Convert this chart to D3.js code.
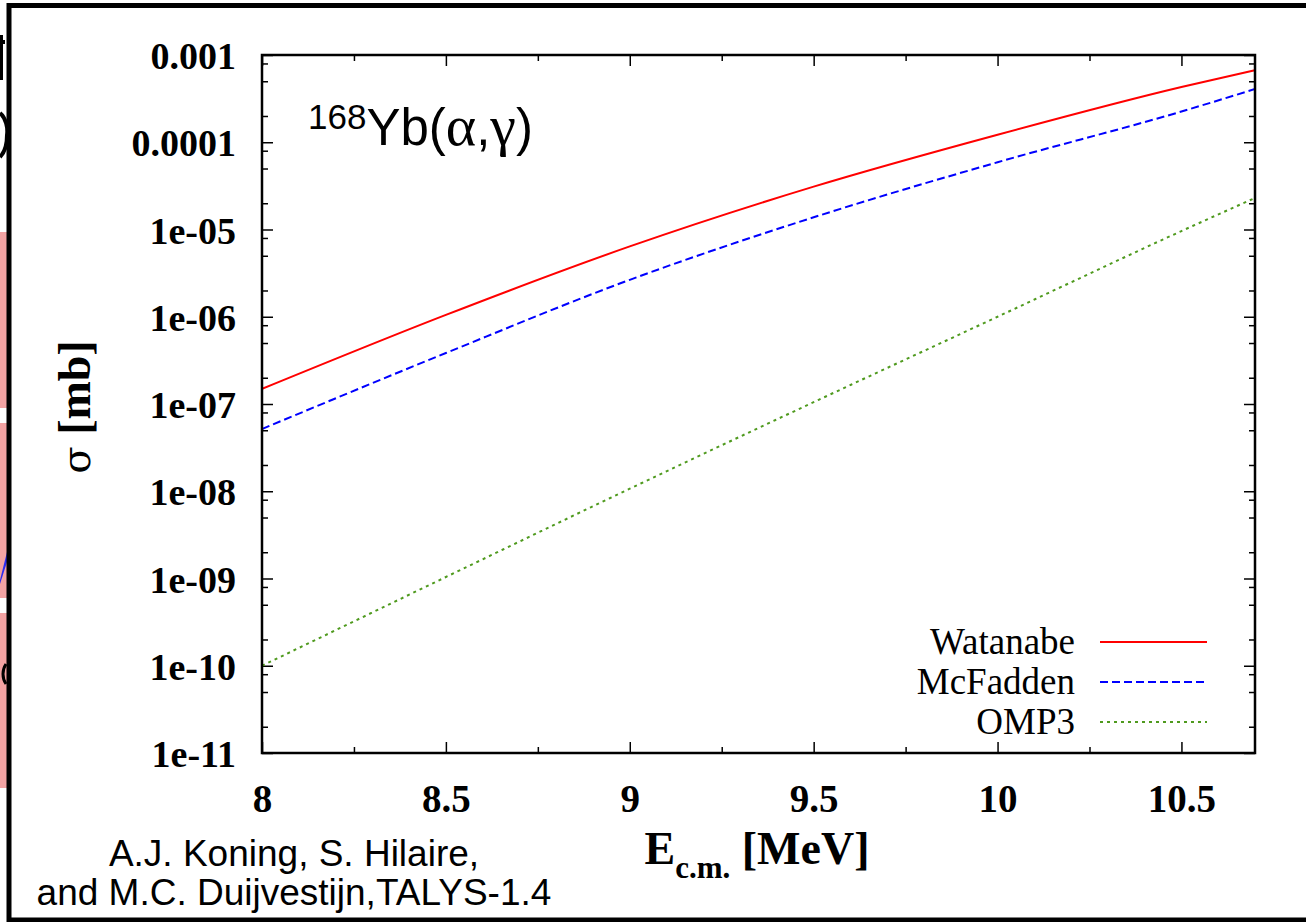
<!DOCTYPE html>
<html>
<head>
<meta charset="utf-8">
<script src="https://cdn.jsdelivr.net/npm/d3@7"></script>
<style>
  body { margin: 0; background: #fff; }
  svg { display: block; }
</style>
</head>
<body>
<script>
// energies (MeV) where curves were read
var energies = [8, 8.5, 9, 9.5, 10, 10.5, 10.7];

// cross sections in mb
var watanabe = [1.49e-7, 1.05e-6, 6.4e-6, 3.1e-5, 1.22e-4, 4.3e-4, 6.7e-4];
var mcfadden = [5.17e-8, 3.84e-7, 2.65e-6, 1.38e-5, 5.9e-5, 2.25e-4, 4.07e-4];
var omp3 = [1.0e-10, 1.04e-9, 1.07e-8, 1.05e-7, 1.0e-6, 9.6e-6, 2.3e-5];

var seriesNames = ["Watanabe", "McFadden", "OMP3"];

var xTicks = [8, 8.5, 9, 9.5, 10, 10.5];
var xTickLabels = ["8", "8.5", "9", "9.5", "10", "10.5"];
var xMinorTicks = [8.25, 8.75, 9.25, 9.75, 10.25];

var yTicks = [1e-3, 1e-4, 1e-5, 1e-6, 1e-7, 1e-8, 1e-9, 1e-10, 1e-11];
var yTickLabels = ["0.001", "0.0001", "1e-05", "1e-06", "1e-07", "1e-08", "1e-09", "1e-10", "1e-11"];
var yMinorMult = [2, 5, 8];

var width = 1306, height = 922;
var plotL = 262, plotR = 1255, plotT = 55, plotB = 753;
var serif = "'Liberation Serif', 'Times New Roman', serif";
var sans = "'Liberation Sans', Arial, sans-serif";

var svg = d3.select("body").append("svg")
  .attr("width", width)
  .attr("height", height);

// bits of the slide behind the figure (left strip)
var strip = svg.append("g");
[[232, 408], [423, 598], [613, 788]].forEach(function (r) {
  strip.append("rect")
    .attr("x", 0).attr("y", r[0])
    .attr("width", 7).attr("height", r[1] - r[0])
    .attr("fill", "#f3a3a3");
});
strip.append("path")
  .attr("d", "M0,580 L7,552 L7,562 L0,584 Z")
  .attr("fill", "#2b2bf0");
strip.append("path")
  .attr("d", "M0,35 L3,35 L3,80 L0,80 Z M0,40 L5,40 L5,44 L0,44 Z")
  .attr("fill", "#000");
strip.append("path")
  .attr("d", "M0,113 C6,118 8,128 7,135 C7,144 5,152 0,157")
  .attr("fill", "none").attr("stroke", "#000").attr("stroke-width", 4);
strip.append("path")
  .attr("d", "M6,664 C2,670 2,678 6,684")
  .attr("fill", "none").attr("stroke", "#000").attr("stroke-width", 3);

// outer slide frame
svg.append("path")
  .attr("d", "M1306,5.5 L9,5.5 L9,920 L1306,920")
  .attr("fill", "none")
  .attr("stroke", "#000")
  .attr("stroke-width", 5);

var x = d3.scaleLinear().domain([8, 10.7]).range([plotL, plotR]);
var y = d3.scaleLog().domain([1e-11, 1e-3]).range([plotB, plotT]);

var yMinor = [];
yTicks.forEach(function (t) {
  yMinorMult.forEach(function (m) {
    var v = t * m;
    if (v < 1e-3 && v > 1e-11) yMinor.push(v);
  });
});

var majorLen = 11, minorLen = 6;

function drawAxis(axis, transform) {
  var g = svg.append("g").attr("transform", transform).call(axis);
  g.select(".domain").remove();
  g.selectAll("line").attr("stroke-width", 1.5);
  return g;
}

// bottom & top, major and minor
var xb = drawAxis(d3.axisBottom(x).tickValues(xTicks).tickSize(-majorLen)
  .tickPadding(majorLen + 20)
  .tickFormat(function (d, i) { return xTickLabels[i]; }), "translate(0," + plotB + ")");
xb.selectAll("text")
  .attr("font-family", serif)
  .attr("font-weight", "bold")
  .attr("font-size", 39)
  .attr("fill", "#000");
drawAxis(d3.axisBottom(x).tickValues(xMinorTicks).tickSize(-minorLen).tickFormat(""), "translate(0," + plotB + ")");
drawAxis(d3.axisTop(x).tickValues(xTicks).tickSize(-majorLen).tickFormat(""), "translate(0," + plotT + ")");
drawAxis(d3.axisTop(x).tickValues(xMinorTicks).tickSize(-minorLen).tickFormat(""), "translate(0," + plotT + ")");

// left & right
var yl = drawAxis(d3.axisLeft(y).tickValues(yTicks).tickSize(-majorLen)
  .tickPadding(majorLen + 15)
  .tickFormat(function (d, i) { return yTickLabels[i]; }), "translate(" + plotL + ",0)");
yl.selectAll("text")
  .attr("font-family", serif)
  .attr("font-weight", "bold")
  .attr("font-size", 38)
  .attr("dy", "0.36em")
  .attr("fill", "#000");
drawAxis(d3.axisLeft(y).tickValues(yMinor).tickSize(-minorLen).tickFormat(""), "translate(" + plotL + ",0)");
drawAxis(d3.axisRight(y).tickValues(yTicks).tickSize(-majorLen).tickFormat(""), "translate(" + plotR + ",0)");
drawAxis(d3.axisRight(y).tickValues(yMinor).tickSize(-minorLen).tickFormat(""), "translate(" + plotR + ",0)");

// curves
var series = [
  { name: seriesNames[0], values: watanabe, color: "#ff0000", dash: null },
  { name: seriesNames[1], values: mcfadden, color: "#0000ff", dash: "8,4" },
  { name: seriesNames[2], values: omp3, color: "#4f9a1e", dash: "3,4" }
];

var line = d3.line()
  .x(function (d) { return x(d[0]); })
  .y(function (d) { return y(d[1]); })
  .curve(d3.curveMonotoneX);

svg.append("clipPath").attr("id", "plotclip")
  .append("rect").attr("x", plotL).attr("y", plotT)
  .attr("width", plotR - plotL).attr("height", plotB - plotT);

svg.append("g").attr("clip-path", "url(#plotclip)")
  .selectAll("path")
  .data(series)
  .enter()
  .append("path")
  .attr("d", function (s) { return line(energies.map(function (e, i) { return [e, s.values[i]]; })); })
  .attr("fill", "none")
  .attr("stroke", function (s) { return s.color; })
  .attr("stroke-width", 2)
  .attr("stroke-dasharray", function (s) { return s.dash; });

// plot frame
svg.append("rect")
  .attr("x", plotL).attr("y", plotT)
  .attr("width", plotR - plotL).attr("height", plotB - plotT)
  .attr("fill", "none")
  .attr("stroke", "#000")
  .attr("stroke-width", 2.5);

// legend
var legend = svg.append("g");
series.forEach(function (s, i) {
  var ly = 642 + i * 40;
  legend.append("text")
    .attr("x", 1075).attr("y", ly + 12)
    .attr("text-anchor", "end")
    .attr("font-family", serif)
    .attr("font-size", 37)
    .attr("fill", "#000")
    .text(s.name);
  legend.append("line")
    .attr("x1", 1100).attr("x2", 1207)
    .attr("y1", ly).attr("y2", ly)
    .attr("stroke", s.color)
    .attr("stroke-width", 2)
    .attr("stroke-dasharray", s.dash);
});

// reaction title
var title = svg.append("text")
  .attr("x", 308).attr("y", 145)
  .attr("font-family", sans)
  .attr("font-size", 51)
  .attr("fill", "#000");
title.append("tspan").attr("font-size", 35).attr("dy", -16).text("168");
title.append("tspan").attr("dy", 16).text("Yb(");
title.append("tspan").attr("font-family", serif).attr("font-size", 58).text("\u03b1");
title.append("tspan").text(",");
title.append("tspan").attr("font-family", serif).attr("font-size", 58).text("\u03b3");
title.append("tspan").text(")");

// axis titles
var ylab = svg.append("text")
  .attr("transform", "translate(90,407) rotate(-90)")
  .attr("text-anchor", "middle")
  .attr("font-family", serif)
  .attr("font-weight", "bold")
  .attr("font-size", 46)
  .attr("fill", "#000");
ylab.append("tspan").attr("font-family", "'DejaVu Serif', serif").attr("font-weight", "normal").attr("font-size", 40).text("\u03c3");
ylab.append("tspan").text(" [mb]");

var xl = svg.append("text")
  .attr("x", 757).attr("y", 864)
  .attr("text-anchor", "middle")
  .attr("font-family", serif)
  .attr("font-weight", "bold")
  .attr("font-size", 46)
  .attr("fill", "#000");
xl.append("tspan").text("E");
xl.append("tspan").attr("font-size", 31).attr("dy", 14).text("c.m.");
xl.append("tspan").attr("dy", -14).text(" [MeV]");

// credit
var credit = svg.append("g")
  .attr("font-family", sans)
  .attr("font-size", 37)
  .attr("fill", "#000")
  .attr("text-anchor", "middle");
credit.append("text").attr("x", 294).attr("y", 866).text("A.J. Koning, S. Hilaire,");
credit.append("text").attr("x", 294).attr("y", 905).text("and M.C. Duijvestijn,TALYS-1.4");
</script>
</body>
</html>
